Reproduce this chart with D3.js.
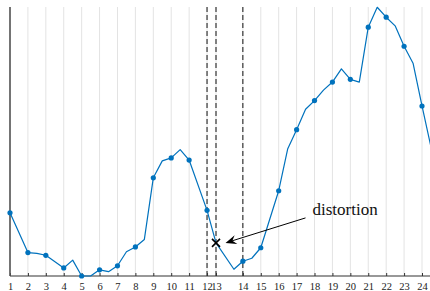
<!DOCTYPE html>
<html>
<head>
<meta charset="utf-8">
<script src="https://cdn.jsdelivr.net/npm/d3@7"></script>
<style>
  html, body { margin: 0; padding: 0; background: #fff; }
  svg { display: block; }
</style>
</head>
<body>
<svg id="chart" width="430" height="291"></svg>
<script>
// ---- data ----
const sampleX = [1, 2, 2.5, 3, 4, 4.5, 5, 5.5, 6, 6.5, 7, 7.5, 8, 8.5, 9, 9.5, 10, 10.5, 11, 12, 12.5,
  13.5, 14, 14.5, 15, 16, 16.5, 17, 17.5, 18, 18.5, 19, 19.5, 20, 20.5, 21, 21.5, 22, 22.5, 23, 23.5, 24, 24.5];
const sampleY = [23.5, 8.7, 8.4, 7.7, 3.0, 5.9, 0.0, 0.0, 2.3, 1.6, 3.8, 9.0, 10.8, 13.6, 36.5, 42.8, 43.9, 47.0, 43.1, 24.4, 12.3,
  2.5, 5.5, 6.6, 10.5, 31.7, 47.2, 54.4, 62.0, 65.2, 69.1, 72.1, 77.0, 73.1, 72.1, 92.5, 99.9, 96.2, 93.0, 85.4, 79.1, 63.2, 48.0];
const markerX = [1, 2, 3, 4, 5, 6, 7, 8, 9, 10, 11, 12, 14, 15, 16, 17, 18, 19, 20, 21, 22, 23, 24];
const tickValues = [1, 2, 3, 4, 5, 6, 7, 8, 9, 10, 11, 12, 12.5, 14, 15, 16, 17, 18, 19, 20, 21, 22, 23, 24];
const tickLabels = ["1", "2", "3", "4", "5", "6", "7", "8", "9", "10", "11", "12", "13", "14", "15", "16", "17", "18", "19", "20", "21", "22", "23", "24"];
const dashedX = [12, 12.5, 14];
const distortionX = 12.5;
const annotationText = "distortion";

// ---- layout ----
const svg = d3.select("#chart");
const mLeft = 10, mRight = 422, mTop = 7, mBottom = 276;
const x = d3.scaleLinear().domain([1, 24]).range([mLeft, mRight]);
const y = d3.scaleLinear().domain([0, 100]).range([mBottom, mTop]);
const blue = "#0072BD";
const serif = "'Liberation Serif', 'Times New Roman', serif";

const data = sampleX.map((v, i) => ({ x: v, y: sampleY[i] }));
const lookup = new Map(data.map(d => [d.x, d.y]));

// grid
svg.append("g").selectAll("line").data(tickValues).join("line")
  .attr("x1", d => x(d)).attr("x2", d => x(d))
  .attr("y1", mTop).attr("y2", mBottom)
  .attr("stroke", "#e3e3e3").attr("stroke-width", 1);

// dashed lines
svg.append("g").selectAll("line").data(dashedX).join("line")
  .attr("x1", d => x(d)).attr("x2", d => x(d))
  .attr("y1", mTop).attr("y2", mBottom)
  .attr("stroke", "#111").attr("stroke-width", 1)
  .attr("stroke-dasharray", "5,3");

// bottom axis
const xAxis = d3.axisBottom(x)
  .tickValues(tickValues)
  .tickFormat((d, i) => tickLabels[i])
  .tickSizeInner(-3).tickSizeOuter(0).tickPadding(6.5);
const gx = svg.append("g").attr("transform", `translate(0,${mBottom})`).call(xAxis);
gx.select(".domain").remove();
gx.selectAll(".tick line").attr("stroke", "#333").attr("stroke-width", 1);
gx.selectAll(".tick text").attr("font-family", serif).attr("font-size", 10.5).attr("fill", "#222");
svg.append("line").attr("x1", mLeft).attr("x2", 430).attr("y1", mBottom).attr("y2", mBottom)
  .attr("stroke", "#333").attr("stroke-width", 1.2);

// left spine
svg.append("line").attr("x1", mLeft).attr("x2", mLeft).attr("y1", mTop).attr("y2", mBottom)
  .attr("stroke", "#555").attr("stroke-width", 1.6);

// line
const line = d3.line().x(d => x(d.x)).y(d => y(d.y));
svg.append("path").datum(data).attr("d", line)
  .attr("fill", "none").attr("stroke", blue).attr("stroke-width", 1.2)
  .attr("stroke-linejoin", "round");

// markers
svg.append("g").selectAll("circle").data(markerX).join("circle")
  .attr("cx", d => x(d)).attr("cy", d => y(lookup.get(d)))
  .attr("r", 2.6).attr("fill", blue);

// distortion X marker
const px = x(distortionX), py = y(lookup.get(distortionX));
const s = 4;
svg.append("path")
  .attr("d", `M${px - s},${py - s}L${px + s},${py + s}M${px - s},${py + s}L${px + s},${py - s}`)
  .attr("stroke", "#000").attr("stroke-width", 1.6).attr("fill", "none");

// annotation arrow
const tip = [px + 9.5, py];
const tail = [px + 89.5, py - 25];
const dx = tip[0] - tail[0], dy = tip[1] - tail[1];
const len = Math.hypot(dx, dy);
const ux = dx / len, uy = dy / len, nx = -uy, ny = ux;
const L = 11, W = 4.5;
svg.append("line")
  .attr("x1", tail[0]).attr("y1", tail[1])
  .attr("x2", tip[0] - ux * 6).attr("y2", tip[1] - uy * 6)
  .attr("stroke", "#000").attr("stroke-width", 1);
svg.append("path")
  .attr("d", `M${tip[0]},${tip[1]}
    L${tip[0] - ux * L + nx * W},${tip[1] - uy * L + ny * W}
    L${tip[0] - ux * L * 0.65},${tip[1] - uy * L * 0.65}
    L${tip[0] - ux * L - nx * W},${tip[1] - uy * L - ny * W}Z`)
  .attr("fill", "#000");

svg.append("text")
  .attr("x", px + 96.5).attr("y", py - 28)
  .attr("font-family", serif).attr("font-size", 17).attr("fill", "#111")
  .text(annotationText);
</script>
</body>
</html>
